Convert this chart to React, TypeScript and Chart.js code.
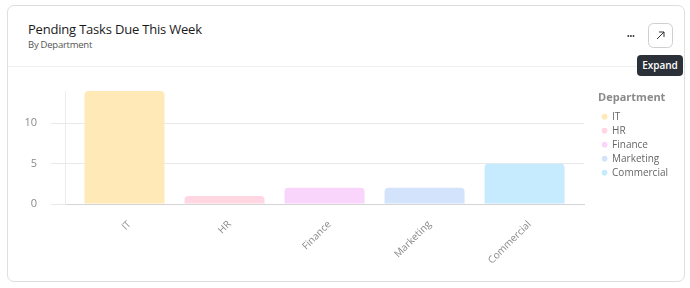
import React, { useEffect, useRef } from "react";
import { Chart, registerables } from "chart.js";

Chart.register(...registerables);

const categories = ["IT", "HR", "Finance", "Marketing", "Commercial"];
const pendingTasks = [14, 1, 2, 2, 5];
const barColors = ["#FFE9B6", "#FFD6E1", "#F9D4FB", "#D4E3FC", "#C6EBFE"];
const yTickValues = [0, 5, 10];

const FONT = "'Open Sans', 'Noto Sans', sans-serif";

export default function App() {
  const canvasRef = useRef<HTMLCanvasElement>(null);

  useEffect(() => {
    if (!canvasRef.current) return;
    const chart = new Chart(canvasRef.current, {
      type: "bar",
      data: {
        datasets: [
          {
            label: "Pending",
            data: categories.map((_, i) => ({ x: i, y: pendingTasks[i] })),
            backgroundColor: barColors,
            borderRadius: 4,
            borderSkipped: "start",
            barPercentage: 1,
            categoryPercentage: 0.8,
          },
        ],
      },
      options: {
        animation: false,
        responsive: true,
        maintainAspectRatio: false,
        layout: { padding: { top: 11, right: 6, left: 0, bottom: 0 } },
        font: { family: FONT },
        scales: {
          x: {
            type: "linear",
            offset: false,
            min: -0.595,
            max: categories.length - 1 + 0.595,
            afterBuildTicks: (s: any) => {
              s.ticks = categories.map((_, i) => ({ value: i }));
            },
            afterFit: (s: any) => {
              s.height = 70;
              s.paddingLeft = 0;
              s.paddingRight = 0;
            },
            ticks: {
              callback: (v: any) => categories[v as number] ?? "",
              minRotation: 45,
              maxRotation: 45,
              color: "#8a8a8a",
              font: { size: 10, family: FONT },
              padding: 6.5,
              labelOffset: 5,
              autoSkip: false,
            },
            grid: { display: false },
            border: { color: "#d4d4d4" },
          },
          y: {
            min: 0,
            max: Math.max(...pendingTasks),
            afterBuildTicks: (s: any) => {
              s.ticks = yTickValues.map((v) => ({ value: v }));
            },
            afterFit: (s: any) => {
              s.width = 45;
              s.paddingTop = 0;
              s.paddingBottom = 0;
            },
            ticks: {
              color: "#8a8a8a",
              font: { size: 11, family: FONT },
              padding: 14,
            },
            grid: { color: "#e8e8e8", tickLength: 14 },
            border: { color: "#ececec" },
          },
          gap: {
            type: "linear",
            position: "right",
            display: true,
            ticks: { display: false },
            grid: { display: false, drawTicks: false },
            border: { display: false },
            afterFit: (s: any) => {
              s.width = 14;
              s.paddingTop = 0;
              s.paddingBottom = 0;
            },
          },
        },
        plugins: {
          tooltip: { enabled: false },
          legend: {
            position: "right",
            align: "start",
            title: {
              display: true,
              text: "Department",
              color: "#8a8a8a",
              position: "start",
              font: { size: 11, weight: "bold", family: FONT },
              padding: { top: 1.0, bottom: 2.5 },
            },
            labels: {
              usePointStyle: true,
              pointStyle: "circle",
              boxWidth: 5,
              boxHeight: 4,
              padding: 4,
              color: "#666",
              font: { size: 10, family: FONT },
              generateLabels: () =>
                categories.map((c, i) => ({
                  text: c,
                  fillStyle: barColors[i],
                  strokeStyle: barColors[i],
                  lineWidth: 0,
                  pointStyle: "circle",
                  hidden: false,
                  index: i,
                  fontColor: "#666",
                })),
            },
          },
        },
      } as any,
    });
    return () => chart.destroy();
  }, []);

  return (
    <div style={{ position: "absolute", left: 0, top: 0, width: 690, height: 288, fontFamily: FONT }}>
      <div
        style={{
          position: "absolute",
          left: 7,
          top: 5,
          width: 678,
          height: 277,
          boxSizing: "border-box",
          border: "1px solid #dedede",
          borderRadius: 7,
          background: "#fff",
        }}
      />
      <div
        style={{
          position: "absolute",
          left: 28,
          top: 20,
          fontSize: 13,
          letterSpacing: -0.2,
          lineHeight: "19px",
          color: "#1a1a1a",
          whiteSpace: "nowrap",
        }}
      >
        Pending Tasks Due This Week
      </div>
      <div
        style={{
          position: "absolute",
          left: 28,
          top: 37.5,
          fontSize: 9.5,
          letterSpacing: -0.25,
          lineHeight: "14px",
          color: "#555",
          whiteSpace: "nowrap",
        }}
      >
        By Department
      </div>
      <div style={{ position: "absolute", left: 8, top: 66, width: 676, height: 1, background: "#efefef" }} />
      <svg style={{ position: "absolute", left: 0, top: 0 }} width={690} height={80}>
        <circle cx={628.3} cy={36} r={0.95} fill="#333" />
        <circle cx={630.9} cy={36} r={0.95} fill="#333" />
        <circle cx={633.5} cy={36} r={0.95} fill="#333" />
        <rect x={648.5} y={23.5} width={24} height={24} rx={5} fill="#fff" stroke="#cfcfcf" />
        <line x1={657} y1={39} x2={664} y2={32} stroke="#333" strokeWidth={1} />
        <polyline points="659,32 664,32 664,37" fill="none" stroke="#333" strokeWidth={1} />
      </svg>
      <div
        style={{
          position: "absolute",
          left: 637,
          top: 55,
          width: 46,
          height: 21,
          background: "#2c3038",
          borderRadius: 4,
          color: "#fff",
          fontSize: 10,
          fontWeight: 600,
          lineHeight: "21px",
          textAlign: "center",
        }}
      >
        Expand
      </div>
      <div style={{ position: "absolute", left: 20, top: 80, width: 664, height: 194 }}>
        <canvas ref={canvasRef} />
      </div>
    </div>
  );
}
